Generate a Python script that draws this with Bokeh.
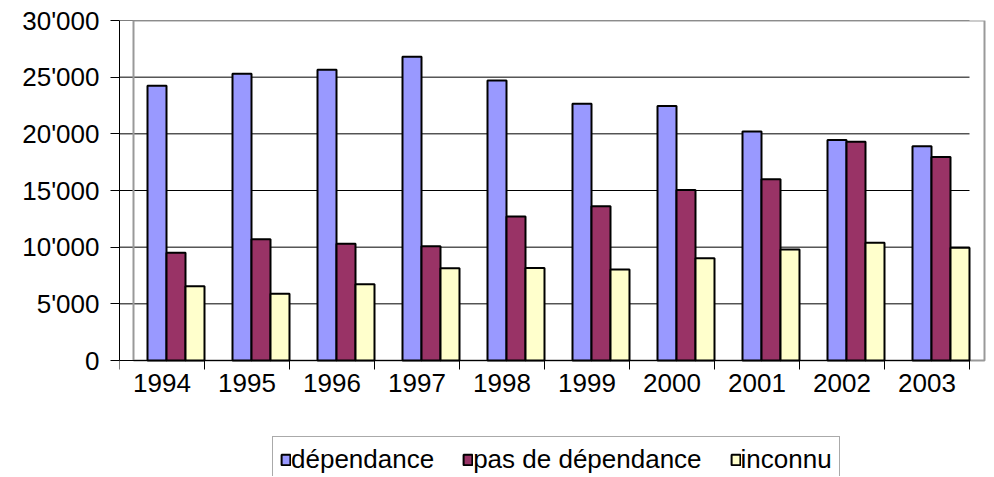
from bokeh.plotting import figure
from bokeh.models import Range1d, FixedTicker, ColumnDataSource, Legend, LegendItem
from bokeh.transform import dodge
from bokeh.core.properties import value
from bokeh.embed import file_html
from bokeh.resources import INLINE

years = ["1994", "1995", "1996", "1997", "1998", "1999", "2000", "2001", "2002", "2003"]
dependance = [24250, 25300, 25650, 26800, 24700, 22650, 22450, 20200, 19450, 18900]
pas_de_dependance = [9500, 10700, 10300, 10080, 12700, 13600, 15050, 16000, 19300, 17950]
inconnu = [6550, 5880, 6730, 8140, 8170, 8030, 9020, 9800, 10380, 9940]
series_names = ["dépendance", "pas de dépendance", "inconnu"]
colors = ["#9999FF", "#993366", "#FFFFCC"]
y_ticks = [0, 5000, 10000, 15000, 20000, 25000, 30000]
y_tick_labels = ["0", "5'000", "10'000", "15'000", "20'000", "25'000", "30'000"]

FONT = "Liberation Sans"
W, H = 986, 476
LEFT, TOP = 119, 20
PLOT_PX = 340.0          # pixels for 0..30000
CAT_PX = 85.0
frame_w = W - LEFT
frame_h = H - TOP
ymax = 30000.0
k = ymax / PLOT_PX       # data units per pixel
ymin = ymax - frame_h * k

n = len(years)
idx = list(range(n))
src = ColumnDataSource(dict(i=idx, dep=dependance, pas=pas_de_dependance, inc=inconnu))
lab = ColumnDataSource(dict(x=[i + 0.5 for i in idx], y=[0] * n, t=years))

p = figure(width=W, height=H, output_backend="svg", toolbar_location=None,
           x_range=Range1d(0, frame_w / CAT_PX), y_range=Range1d(ymin, ymax),
           x_axis_location=None,
           min_border_left=LEFT, min_border_right=0, min_border_top=TOP, min_border_bottom=0)
p.outline_line_color = None
p.background_fill_color = "white"
p.border_fill_color = "white"
p.xgrid.visible = False
p.ygrid.visible = False

# gridlines
p.segment(x0=[0] * len(y_ticks), x1=[n] * len(y_ticks), y0=y_ticks, y1=y_ticks,
          line_color="black", line_width=1)

# back wall (gray frame, offset)
wl = 14 / CAT_PX
wr = 865 / CAT_PX
p.line(x=[wl, wl, wr, wr, wl], y=[0, ymax, ymax, 0, 0], line_color="#999999", line_width=2)

bw = 19 / CAT_PX
fields = ["dep", "pas", "inc"]
offsets = [37.5 / CAT_PX, 56.5 / CAT_PX, 75.5 / CAT_PX]
renderers = []
for f, off, c in zip(fields, offsets, colors):
    r = p.vbar(x=dodge("i", off), top=f, width=bw, bottom=0, source=src,
               fill_color=c, line_color="black", line_width=2)
    renderers.append(r)

# category axis (drawn inside the frame)
p.segment(x0=[0], x1=[n], y0=[0], y1=[0], line_color="black", line_width=1)
p.segment(x0=list(range(n + 1)), x1=list(range(n + 1)), y0=[0] * (n + 1),
          y1=[-9 * k] * (n + 1), line_color="black", line_width=1)
p.text(x="x", y="y", text="t", source=lab, text_align="center", text_baseline="top",
       y_offset=13, text_font=value(FONT), text_font_size="26px", text_color="black")

# y axis
p.yaxis.ticker = FixedTicker(ticks=y_ticks, minor_ticks=[])
p.yaxis.major_label_overrides = {v: s for v, s in zip(y_ticks, y_tick_labels)}
p.yaxis.bounds = (0, ymax)
p.yaxis.axis_line_color = "black"
p.yaxis.major_tick_line_color = "black"
p.yaxis.major_tick_out = 9
p.yaxis.major_tick_in = 0
p.yaxis.minor_tick_line_color = None
p.yaxis.major_label_standoff = 11
p.yaxis.major_label_text_font = FONT
p.yaxis.major_label_text_font_size = "26px"
p.yaxis.major_label_text_color = "black"

legend = Legend(items=[LegendItem(label=nm, renderers=[r]) for nm, r in zip(series_names, renderers)],
                orientation="horizontal", location=(153, -7),
                label_text_font=FONT, label_text_font_size="26px", label_text_color="black",
                glyph_width=11, glyph_height=13, label_standoff=0, spacing=28, padding=7, margin=0,
                border_line_color="#555555", border_line_width=1, background_fill_color="white",
                background_fill_alpha=1.0)
p.add_layout(legend)

open("out.html", "w").write(file_html(p, INLINE))
